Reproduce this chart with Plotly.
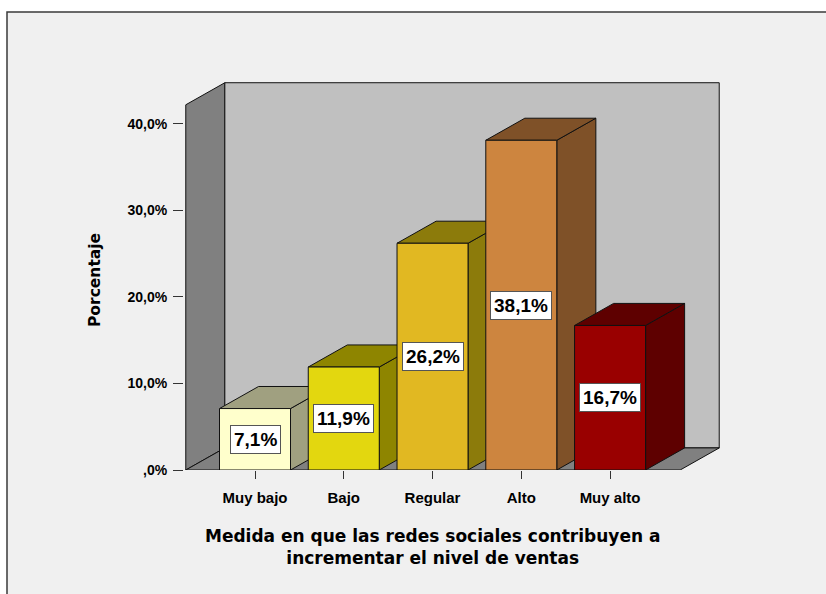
import plotly.graph_objects as go

# Survey result: extent to which social networks help increase sales
categories = ["Muy bajo", "Bajo", "Regular", "Alto", "Muy alto"]
percentages = [7.1, 11.9, 26.2, 38.1, 16.7]
front_colors = ["#FFFFCC", "#E3D70F", "#E1B822", "#CD853F", "#990000"]
shade_colors = ["#A0A080", "#8E8500", "#8C7B0B", "#7F5128", "#5E0000"]
y_ticks = [0, 10, 20, 30, 40]

x_title_lines = ["Medida en que las redes sociales contribuyen a",
                 "incrementar el nivel de ventas"]
y_title = "Porcentaje"


def pct_label(v):
    s = f"{v:.1f}".replace(".", ",")
    if s.startswith("0,"):
        s = s[1:]
    return s + "%"


# 3D box geometry in data units
BAR_W = 0.8
X_LO, X_HI = -0.78, 4.79        # front edge of the floor
DX, DY = 0.44, 2.55             # depth offset (right / up)
Y_TOP = 42.2                    # front top of the side wall
PAD_X, PAD_Y = 0.02, 0.2

EDGE = dict(color="#111111", width=1)

fig = go.Figure()

shapes = []


def poly(pts, fill, layer="below"):
    path = "M " + " L ".join(f"{x},{y}" for x, y in pts) + " Z"
    return dict(type="path", path=path, xref="x", yref="y",
                fillcolor=fill, line=EDGE, layer=layer)


# walls and floor
shapes.append(poly([(X_LO, 0), (X_LO + DX, DY), (X_LO + DX, Y_TOP + DY), (X_LO, Y_TOP)], "#808080"))
shapes.append(poly([(X_LO + DX, DY), (X_HI + DX, DY), (X_HI + DX, Y_TOP + DY), (X_LO + DX, Y_TOP + DY)], "#C0C0C0"))
shapes.append(poly([(X_LO, 0), (X_HI, 0), (X_HI + DX, DY), (X_LO + DX, DY)], "#808080"))

# side and top faces of each bar, left to right
for i, v in enumerate(percentages):
    left, right = i - BAR_W / 2, i + BAR_W / 2
    shapes.append(poly([(right, 0), (right + DX, DY), (right + DX, v + DY), (right, v)], shade_colors[i]))
    shapes.append(poly([(left, v), (right, v), (right + DX, v + DY), (left + DX, v + DY)], shade_colors[i]))

# front faces
fig.add_trace(go.Bar(
    x=list(range(len(categories))), y=percentages, width=BAR_W,
    marker=dict(color=front_colors, line=EDGE),
    hoverinfo="skip", showlegend=False,
))

annotations = []
for i, v in enumerate(percentages):
    annotations.append(dict(
        x=i, y=v / 2, xref="x", yref="y", text=pct_label(v), showarrow=False,
        font=dict(family="Liberation Sans, Arial", size=19, color="black", weight="bold"),
        bgcolor="white", bordercolor="#555555", borderwidth=1, borderpad=3,
    ))

# layout in pixels
W, H = 826, 594
ML, MR, MT, MB = 184, 105, 81, 124
plot_w, plot_h = W - ML - MR, H - MT - MB


def px_x(px):
    return (px - ML) / plot_w


def px_y(py):
    return (H - MB - py) / plot_h


annotations.append(dict(
    x=px_x(95), y=px_y(280), xref="paper", yref="paper", text=y_title,
    textangle=-90, showarrow=False, xanchor="center", yanchor="middle",
    font=dict(family="DejaVu Sans", size=15.5, color="black", weight="bold"),
))
annotations.append(dict(
    x=2, y=px_y(547), xref="x", yref="paper", text="<br>".join(x_title_lines),
    showarrow=False, xanchor="center", yanchor="middle", align="center",
    font=dict(family="DejaVu Sans", size=17, color="black", weight="bold"),
))

# outer frame
shapes.insert(0, dict(
    type="rect", xref="paper", yref="paper",
    x0=px_x(7), y0=px_y(700), x1=px_x(900), y1=px_y(12),
    fillcolor="#F0F0F0", line=dict(color="#3A3A3A", width=1.5), layer="below",
))

fig.update_layout(
    width=W, height=H,
    margin=dict(l=ML, r=MR, t=MT, b=MB, pad=0),
    paper_bgcolor="white", plot_bgcolor="rgba(0,0,0,0)",
    shapes=shapes, annotations=annotations,
    xaxis=dict(
        range=[X_LO - PAD_X, X_HI + DX + PAD_X], showgrid=False, zeroline=False,
        showline=False, tickvals=list(range(len(categories))), ticktext=categories,
        ticks="outside", ticklen=8, tickcolor="#333333", ticklabelstandoff=6,
        tickfont=dict(family="Liberation Sans, Arial", size=15, color="black", weight="bold"),
    ),
    yaxis=dict(
        range=[0, Y_TOP + DY + PAD_Y], showgrid=False, zeroline=False, showline=False,
        tickvals=y_ticks, ticktext=[pct_label(t) for t in y_ticks],
        ticks="outside", ticklen=10, tickcolor="#333333", ticklabelstandoff=3,
        tickfont=dict(family="Liberation Sans, Arial", size=14, color="black", weight="bold"),
    ),
    bargap=0.2,
)

fig.write_html("out.html")
